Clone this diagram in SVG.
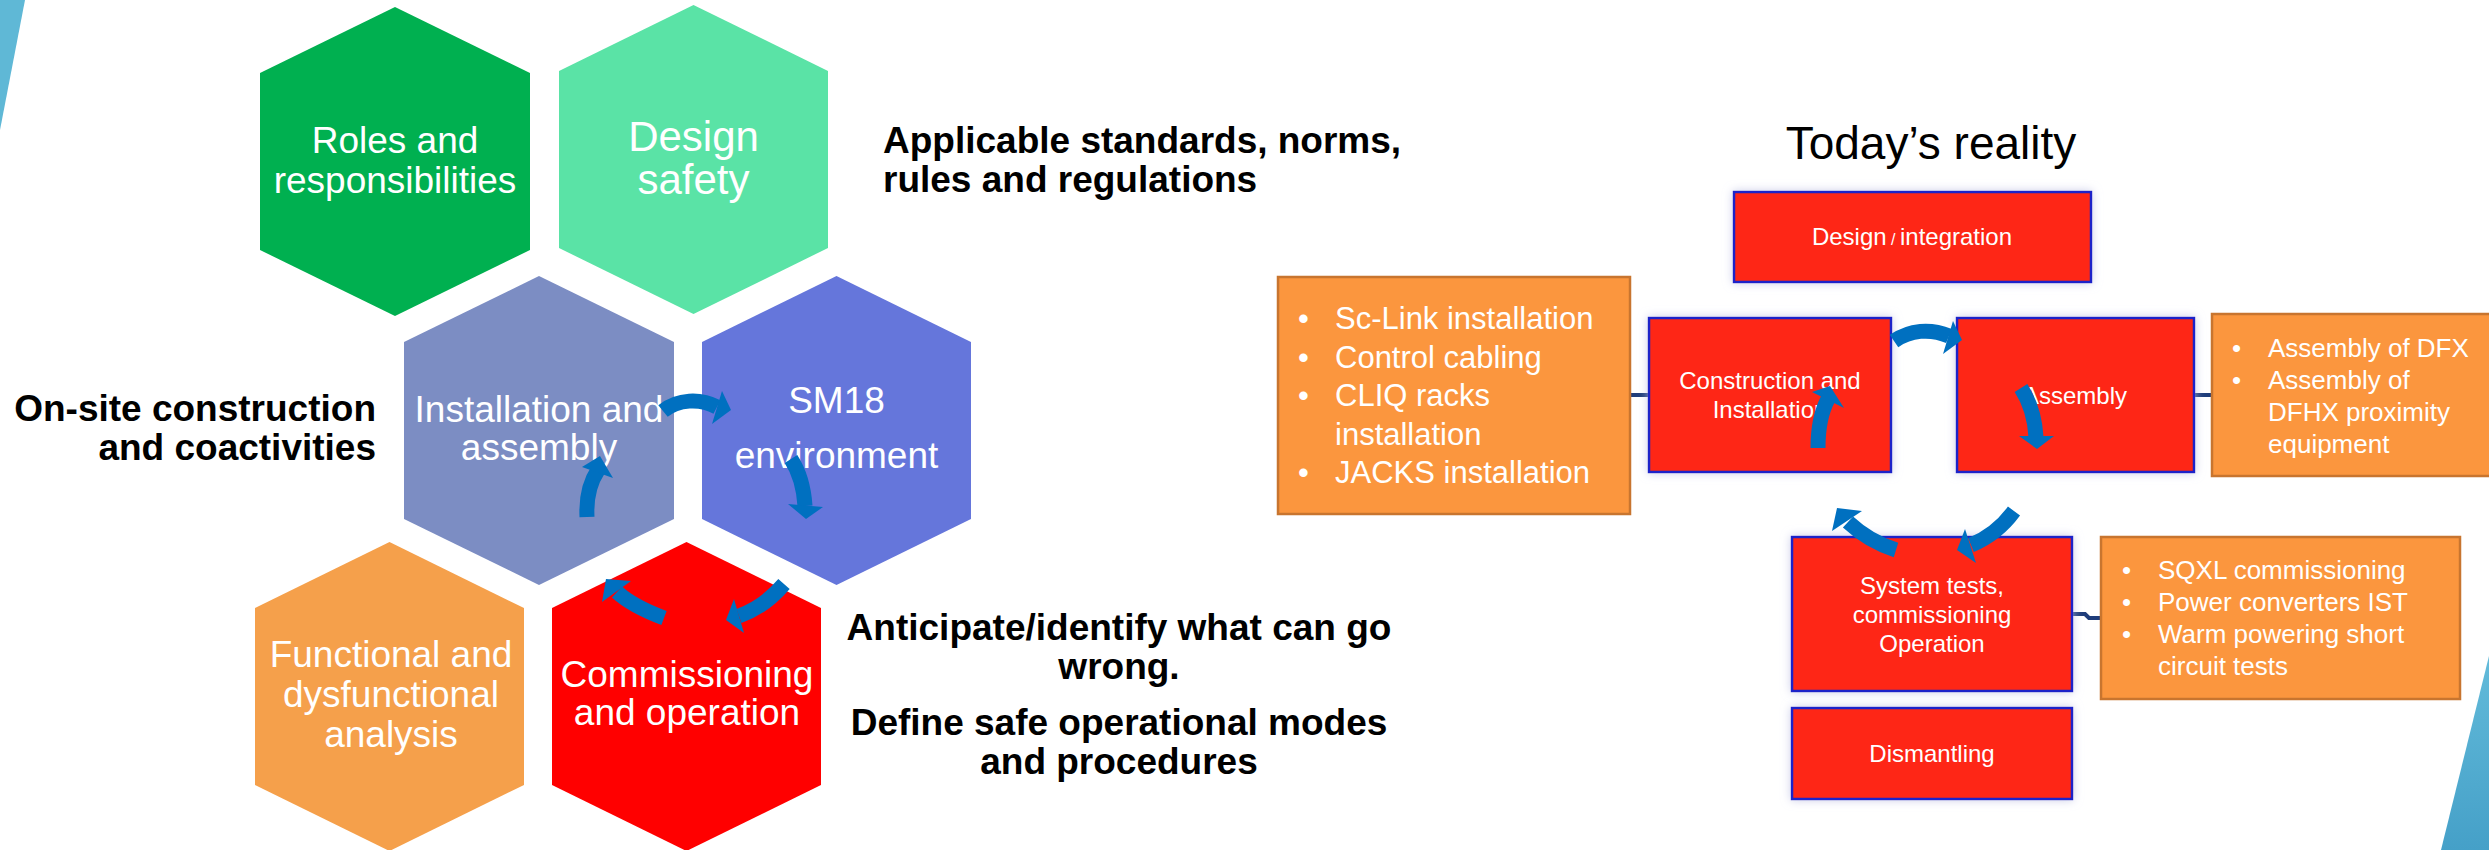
<svg xmlns="http://www.w3.org/2000/svg" width="2489" height="850" viewBox="0 0 2489 850">
<style>
text{font-family:"Liberation Sans",Arial,sans-serif}
.ht{font-size:37px;fill:#fff;text-anchor:middle}
.bt{font-size:37px;font-weight:bold;fill:#000}
.box{fill:#FE2712;stroke:#1E22C9;stroke-width:2.5}
.obox{fill:#FB963E;stroke:#C8752F;stroke-width:2.5}
.st{font-size:24px;fill:#fff;text-anchor:middle}
.bl{fill:#fff}
.ab{fill:none;stroke:#0070C0;stroke-width:15;stroke-linecap:butt}
.ah{fill:#0070C0}
.cn{fill:none;stroke:#1F3D7A;stroke-width:4}
</style>
<defs>
<filter id="glow" x="-15%" y="-25%" width="130%" height="150%">
<feDropShadow dx="0" dy="0" stdDeviation="5" flood-color="#b9bde3" flood-opacity="0.75"/>
</filter>
<linearGradient id="wedge" x1="0" y1="0" x2="0" y2="1">
<stop offset="0" stop-color="#63BBDA"/>
<stop offset="1" stop-color="#45A0C8"/>
</linearGradient>
</defs>
<rect width="2489" height="850" fill="#fff"/>
<g id="background">
<polygon points="0,0 25,0 0,130" fill="#5FB8D6"/>
<polygon points="2489,656 2489,850 2441,850" fill="url(#wedge)"/>
</g>

<g id="hex-roles">
<polygon points="395,7 530,73 530,250 395,316 260,250 260,73" fill="#00B050"/>
<text class="ht" x="395" y="153">Roles and</text>
<text class="ht" x="395" y="193">responsibilities</text>
</g>
<g id="hex-design">
<polygon points="693.5,5 828,71 828,248 693.5,314 559,248 559,71" fill="#5AE3A6"/>
<text class="ht" style="font-size:42px" x="693.5" y="151">Design</text>
<text class="ht" style="font-size:42px" x="693.5" y="194">safety</text>
</g>
<g id="hex-installation">
<polygon points="539,276 674,342 674,519 539,585 404,519 404,342" fill="#7C8DC3"/>
<text class="ht" x="539" y="422">Installation and</text>
<text class="ht" x="539" y="460">assembly</text>
</g>
<g id="hex-sm18">
<polygon points="836.5,276 971,342 971,519 836.5,585 702,519 702,342" fill="#6576DB"/>
<text class="ht" x="836.5" y="413">SM18</text>
<text class="ht" x="836.5" y="468">environment</text>
</g>
<g id="hex-functional">
<polygon points="389.5,542 524,608 524,785 389.5,851 255,785 255,608" fill="#F5A04B"/>
<text class="ht" x="391" y="667">Functional and</text>
<text class="ht" x="391" y="707">dysfunctional</text>
<text class="ht" x="391" y="747">analysis</text>
</g>
<g id="hex-commissioning">
<polygon points="686.5,542 821,608 821,785 686.5,851 552,785 552,608" fill="#FF0000"/>
<text class="ht" x="687" y="687">Commissioning</text>
<text class="ht" x="687" y="725">and operation</text>
</g>

<g id="label-onsite">
<text class="bt" x="376" y="421" text-anchor="end">On-site construction</text>
<text class="bt" x="376" y="460" text-anchor="end">and coactivities</text>
</g>
<g id="label-standards">
<text class="bt" x="883" y="153">Applicable standards, norms,</text>
<text class="bt" x="883" y="192">rules and regulations</text>
</g>
<g id="label-anticipate">
<text class="bt" x="1119" y="640" text-anchor="middle">Anticipate/identify what can go</text>
<text class="bt" x="1119" y="679" text-anchor="middle">wrong.</text>
<text class="bt" x="1119" y="735" text-anchor="middle">Define safe operational modes</text>
<text class="bt" x="1119" y="774" text-anchor="middle">and procedures</text>
</g>

<g id="title">
<text x="1931" y="159" text-anchor="middle" style="font-size:46px;fill:#000">Today’s reality</text>
</g>

<g id="connectors">
<polyline class="cn" points="1630,395 1649,395"/>
<polyline class="cn" points="2194,395 2212,395"/>
<polyline class="cn" points="2072,614 2085,614 2089,618 2101,618"/>
</g>

<g id="box-design">
<rect class="box" x="1734" y="192" width="357" height="90" filter="url(#glow)"/>
<text class="st" x="1912" y="245">Design<tspan style="font-size:16px"> / </tspan>integration</text>
</g>
<g id="box-construction">
<rect class="box" x="1649" y="318" width="242" height="154" filter="url(#glow)"/>
<text class="st" x="1770" y="389">Construction and</text>
<text class="st" x="1770" y="418">Installation</text>
</g>
<g id="box-assembly">
<rect class="box" x="1957" y="318" width="237" height="154" filter="url(#glow)"/>
<text class="st" x="2075" y="404">Assembly</text>
</g>
<g id="box-system">
<rect class="box" x="1792" y="537" width="280" height="154" filter="url(#glow)"/>
<text class="st" x="1932" y="594">System tests,</text>
<text class="st" x="1932" y="623">commissioning</text>
<text class="st" x="1932" y="652">Operation</text>
</g>
<g id="box-dismantling">
<rect class="box" x="1792" y="708" width="280" height="91" filter="url(#glow)"/>
<text class="st" x="1932" y="762">Dismantling</text>
</g>

<g id="box-sclink">
<rect class="obox" x="1278" y="277" width="352" height="237"/>
<g style="font-size:31px">
<text class="bl" x="1298" y="329">•</text><text class="bl" x="1335" y="329">Sc-Link installation</text>
<text class="bl" x="1298" y="368">•</text><text class="bl" x="1335" y="368">Control cabling</text>
<text class="bl" x="1298" y="406">•</text><text class="bl" x="1335" y="406">CLIQ racks</text>
<text class="bl" x="1335" y="445">installation</text>
<text class="bl" x="1298" y="483">•</text><text class="bl" x="1335" y="483">JACKS installation</text>
</g>
</g>
<g id="box-dfx">
<rect class="obox" x="2212" y="314" width="290" height="162"/>
<g style="font-size:26px">
<text class="bl" x="2232" y="357">•</text><text class="bl" x="2268" y="357">Assembly of DFX</text>
<text class="bl" x="2232" y="389">•</text><text class="bl" x="2268" y="389">Assembly of</text>
<text class="bl" x="2268" y="421">DFHX proximity</text>
<text class="bl" x="2268" y="453">equipment</text>
</g>
</g>
<g id="box-sqxl">
<rect class="obox" x="2101" y="537" width="359" height="162"/>
<g style="font-size:26px">
<text class="bl" x="2122" y="579">•</text><text class="bl" x="2158" y="579">SQXL commissioning</text>
<text class="bl" x="2122" y="611">•</text><text class="bl" x="2158" y="611">Power converters IST</text>
<text class="bl" x="2122" y="643">•</text><text class="bl" x="2158" y="643">Warm powering short</text>
<text class="bl" x="2158" y="675">circuit tests</text>
</g>
</g>

<g id="cycle-arrows-left">
<path class="ab" d="M663,411 C678,399 700,398 717,407"/>
<polygon class="ah" points="722,391 731,410 712,424"/>
<path class="ab" d="M791,459 C800,473 804,490 805,506"/>
<polygon class="ah" points="788,504 823,507 806,519"/>
<path class="ab" d="M784,584 C772,598 756,610 739,616"/>
<polygon class="ah" points="734,599 726,620 744,633"/>
<path class="ab" d="M664,618 C648,612 630,604 617,592"/>
<polygon class="ah" points="602,602 606,579 631,581"/>
<path class="ab" d="M587,517 C586,497 590,482 598,470"/>
<polygon class="ah" points="582,467 600,456 613,478"/>
</g>
<g id="cycle-arrows-right">
<path class="ab" d="M1894,341 C1910,330 1930,328 1949,336"/>
<polygon class="ah" points="1953,321 1962,340 1943,354"/>
<path class="ab" d="M2021,388 C2030,402 2035,420 2036,437"/>
<polygon class="ah" points="2019,436 2054,436 2037,449"/>
<path class="ab" d="M2014,511 C2003,526 1988,538 1971,545"/>
<polygon class="ah" points="1965,529 1957,550 1976,563"/>
<path class="ab" d="M1896,550 C1880,545 1862,535 1848,522"/>
<polygon class="ah" points="1832,531 1837,508 1862,511"/>
<path class="ab" d="M1818,448 C1818,428 1821,412 1828,399"/>
<polygon class="ah" points="1812,392 1830,386 1844,408"/>
</g>
</svg>
